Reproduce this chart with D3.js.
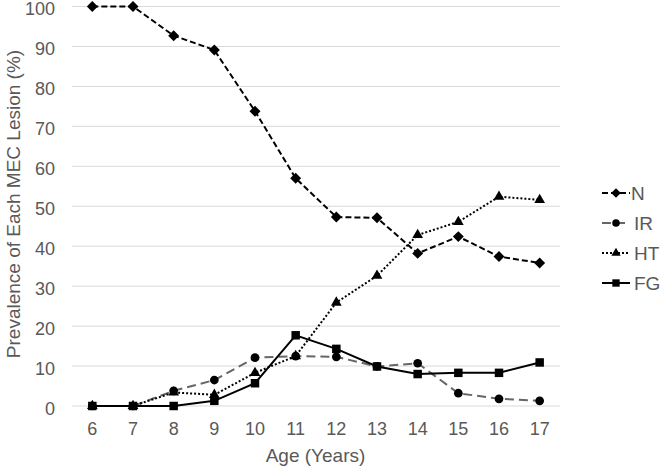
<!DOCTYPE html>
<html><head><meta charset="utf-8">
<script src="https://cdn.jsdelivr.net/npm/d3@7"></script>
<style>body{margin:0;background:#fff}svg{display:block}text{font-family:"Liberation Sans",Arial,sans-serif}</style>
</head><body>
<svg id="c" width="660" height="469"></svg>
<script>
const ages = ["6","7","8","9","10","11","12","13","14","15","16","17"];
const yTicks = [0,10,20,30,40,50,60,70,80,90,100];
const seriesNames = ["N","IR","HT","FG"];
const N  = [100,100,92.7,89.1,73.8,57.0,47.3,47.1,38.2,42.4,37.4,35.8];
const IR = [0,0,3.8,6.5,12.1,12.5,12.3,9.9,10.7,3.2,1.8,1.3];
const HT = [0,0,3.4,2.8,8.3,12.5,25.9,32.6,42.8,46.1,52.4,51.6];
const FG = [0,0,0,1.3,5.7,17.7,14.3,9.9,8.0,8.3,8.3,10.9];

const svg = d3.select("#c");
const x = d3.scaleBand().domain(ages).range([72,560]);
const y = d3.scaleLinear().domain([0,100]).range([406,6.5]);
const grey = "#595959";
const ff = '"Liberation Sans",Arial,sans-serif';

// gridlines
svg.append("g").selectAll("line").data(yTicks).join("line")
  .attr("x1",72).attr("x2",560).attr("y1",d=>y(d)).attr("y2",d=>y(d))
  .attr("stroke","#d9d9d9").attr("stroke-width",1);

// y axis labels
const ya = svg.append("g").attr("transform","translate(72,0)")
  .call(d3.axisLeft(y).tickValues(yTicks).tickSize(0).tickPadding(17));
ya.select(".domain").remove();
ya.selectAll("text").attr("font-size",18).attr("fill",grey).attr("dy","0.45em").style("font-family",ff);

// x axis labels
const xa = svg.append("g").attr("transform","translate(0,406)")
  .call(d3.axisBottom(x).tickSize(0));
xa.select(".domain").remove();
xa.selectAll("text").attr("font-size",18).attr("fill",grey).attr("dy",null).attr("y",29).style("font-family",ff);

svg.append("text").attr("x",315.5).attr("y",462).attr("text-anchor","middle")
  .attr("font-size",19).attr("fill",grey).text("Age (Years)");
svg.append("text").attr("transform","translate(20,204) rotate(-90)").attr("text-anchor","middle")
  .attr("font-size",19).attr("fill",grey).text("Prevalence of Each MEC Lesion (%)");

const diamond = { draw(ctx, size){ const r = Math.sqrt(size/2); ctx.moveTo(0,-r); ctx.lineTo(r,0); ctx.lineTo(0,r); ctx.lineTo(-r,0); ctx.closePath(); } };

const series = [
  {name:"N", vals:N, dash:"6,3", color:"#000", shape:diamond, size:60},
  {name:"IR", vals:IR, dash:"9,5", color:"#666", shape:d3.symbolCircle, size:60},
  {name:"HT", vals:HT, dash:"2,2", color:"#000", shape:d3.symbolTriangle, size:50},
  {name:"FG", vals:FG, dash:null, color:"#000", shape:d3.symbolSquare, size:72}
];
const cx = d => x(d)+x.bandwidth()/2;
const line = d3.line().x((d,i)=>cx(ages[i])).y(d=>y(d));

series.forEach(s=>{
  svg.append("path").datum(s.vals).attr("d",line).attr("fill","none")
    .attr("stroke",s.color).attr("stroke-width",2).attr("stroke-dasharray",s.dash);
});
series.forEach(s=>{
  svg.append("g").selectAll("path").data(s.vals).join("path")
    .attr("transform",(d,i)=>`translate(${cx(ages[i])},${y(d)})`)
    .attr("d",d3.symbol().type(s.shape).size(s.size)).attr("fill","#000");
});

// legend
const lg = svg.append("g");
series.forEach((s,i)=>{
  const ly = 193 + i*30;
  lg.append("line").attr("x1",602).attr("x2",630).attr("y1",ly).attr("y2",ly)
    .attr("stroke",s.color).attr("stroke-width",2).attr("stroke-dasharray",s.dash);
  lg.append("path").attr("transform",`translate(616,${ly})`)
    .attr("d",d3.symbol().type(s.shape).size(s.size*0.75)).attr("fill","#000");
  lg.append("text").attr("x",s.name==="N"?631:634).attr("y",ly+7).attr("font-size",19).attr("fill",grey).text(s.name);
});
</script>
</body></html>
